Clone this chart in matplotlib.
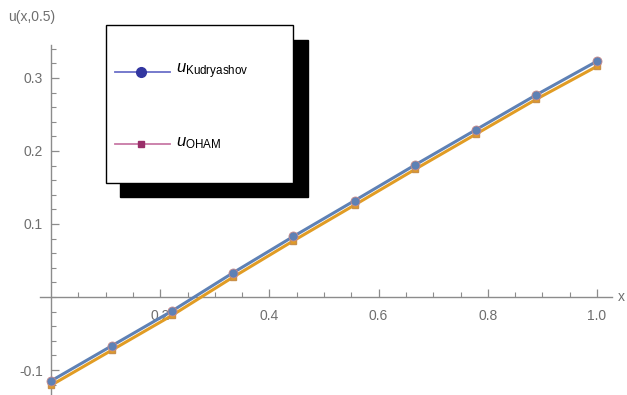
import matplotlib.pyplot as plt
from matplotlib.patches import Rectangle
from matplotlib.lines import Line2D

plt.rcParams["font.family"] = ["Liberation Sans", "DejaVu Sans"]
plt.rcParams["mathtext.fontset"] = "custom"
plt.rcParams["mathtext.rm"] = "Liberation Sans"
plt.rcParams["mathtext.it"] = "Liberation Sans:italic"

# dados
x_pontos = [0.0, 0.111, 0.222, 0.333, 0.444, 0.556, 0.667, 0.778, 0.889, 1.0]
u_kudryashov = [-0.115, -0.067, -0.019, 0.033, 0.083, 0.132, 0.181, 0.229, 0.277, 0.323]
u_oham = [-0.121, -0.073, -0.025, 0.027, 0.077, 0.126, 0.175, 0.223, 0.271, 0.316]

rotulos_legenda = [r"$u_{\mathrm{Kudryashov}}$", r"$u_{\mathrm{OHAM}}$"]
xticks = [0.2, 0.4, 0.6, 0.8, 1.0]
yticks = [-0.1, 0.1, 0.2, 0.3]

W, H = 627, 395
AZUL = "#5e81b5"
LARANJA = "#e19c24"
CINZA = "#8c8c8c"
TEXTO = "#6e6e6e"


def fx(px):
    return px / W


def fy(py):
    return 1 - py / H


fig = plt.figure(figsize=(W / 100, H / 100), dpi=100)
ax = fig.add_axes([0, 0, 1, 1])

# x=0 em px 51, x=1 em px 597 ; y=0 em px 297, 0.1 = 73 px
escala_x = 546
escala_y = 730
ax.set_xlim(-51 / escala_x, (W - 51) / escala_x)
ax.set_ylim(-(H - 297) / escala_y, 297 / escala_y)

ax.plot(x_pontos, u_kudryashov, color=AZUL, lw=2.2, zorder=3)
ax.plot(x_pontos, u_oham, color=LARANJA, lw=2.2, zorder=3)
ax.plot(x_pontos, u_oham, ls="none", marker="s", ms=5, color=LARANJA,
        mec="#c9904a", zorder=4)
ax.plot(x_pontos, u_kudryashov, ls="none", marker="o", ms=6.5, color=AZUL,
        mec="#c98a8a", mew=0.6, zorder=5)

# eixos estilo Mathematica
for lado in ["top", "right"]:
    ax.spines[lado].set_visible(False)
ax.spines["left"].set_position(("data", 0))
ax.spines["bottom"].set_position(("data", 0))
ax.spines["left"].set_bounds(-0.14, 0.345)
ax.spines["bottom"].set_bounds(-0.02, 1.027)
for lado in ["left", "bottom"]:
    ax.spines[lado].set_color(CINZA)
    ax.spines[lado].set_linewidth(1.0)

ax.set_xticks(xticks)
ax.set_xticklabels([f"{v:.1f}" for v in xticks])
ax.set_yticks(yticks)
ax.set_yticklabels([f"{v:.1f}" for v in yticks])
ax.set_xticks([i * 0.05 for i in range(1, 21)], minor=True)
ax.set_yticks([-0.12 + i * 0.02 for i in range(0, 24)], minor=True)

ax.tick_params(axis="both", which="both", direction="in", colors=CINZA,
               labelcolor=TEXTO, labelsize=10)
ax.tick_params(axis="both", which="major", length=6, width=0.9)
ax.tick_params(axis="both", which="minor", length=3.5, width=0.8)
ax.tick_params(axis="x", which="major", pad=9)
ax.tick_params(axis="y", which="major", pad=6)
ax.patch.set_visible(False)

fig.text(fx(8), fy(17), "u(x,0.5)", color=TEXTO, fontsize=10, va="center", ha="left")
fig.text(fx(618), fy(297), "x", color=TEXTO, fontsize=10, va="center", ha="left")

# legenda desenhada a mao (caixa com sombra preta)
sombra = Rectangle((fx(120), fy(197)), fx(308) - fx(120), fy(40) - fy(197),
                   transform=fig.transFigure, facecolor="black", edgecolor="black",
                   zorder=6)
caixa = Rectangle((fx(106), fy(183)), fx(293) - fx(106), fy(25) - fy(183),
                  transform=fig.transFigure, facecolor="white", edgecolor="black",
                  lw=1.0, zorder=7)
fig.add_artist(sombra)
fig.add_artist(caixa)

estilos = [
    dict(color="#6b6fc8", marker="o", mfc="#3236a0", mec="#3236a0", ms=7),
    dict(color="#c87aa6", marker="s", mfc="#9a2f6a", mec="#9a2f6a", ms=5),
]
linhas_y = [72, 144]
for rot, est, py in zip(rotulos_legenda, estilos, linhas_y):
    fig.add_artist(Line2D([fx(115), fx(170)], [fy(py), fy(py)], lw=1.3,
                          color=est["color"], transform=fig.transFigure, zorder=8))
    fig.add_artist(Line2D([fx(141)], [fy(py)], ls="none", marker=est["marker"],
                          mfc=est["mfc"], mec=est["mec"], ms=est["ms"],
                          transform=fig.transFigure, zorder=9))
    fig.text(fx(176), fy(py - 1), rot, fontsize=12, color="black",
             va="center", ha="left", zorder=9)

fig.savefig("out.png", dpi=100)
